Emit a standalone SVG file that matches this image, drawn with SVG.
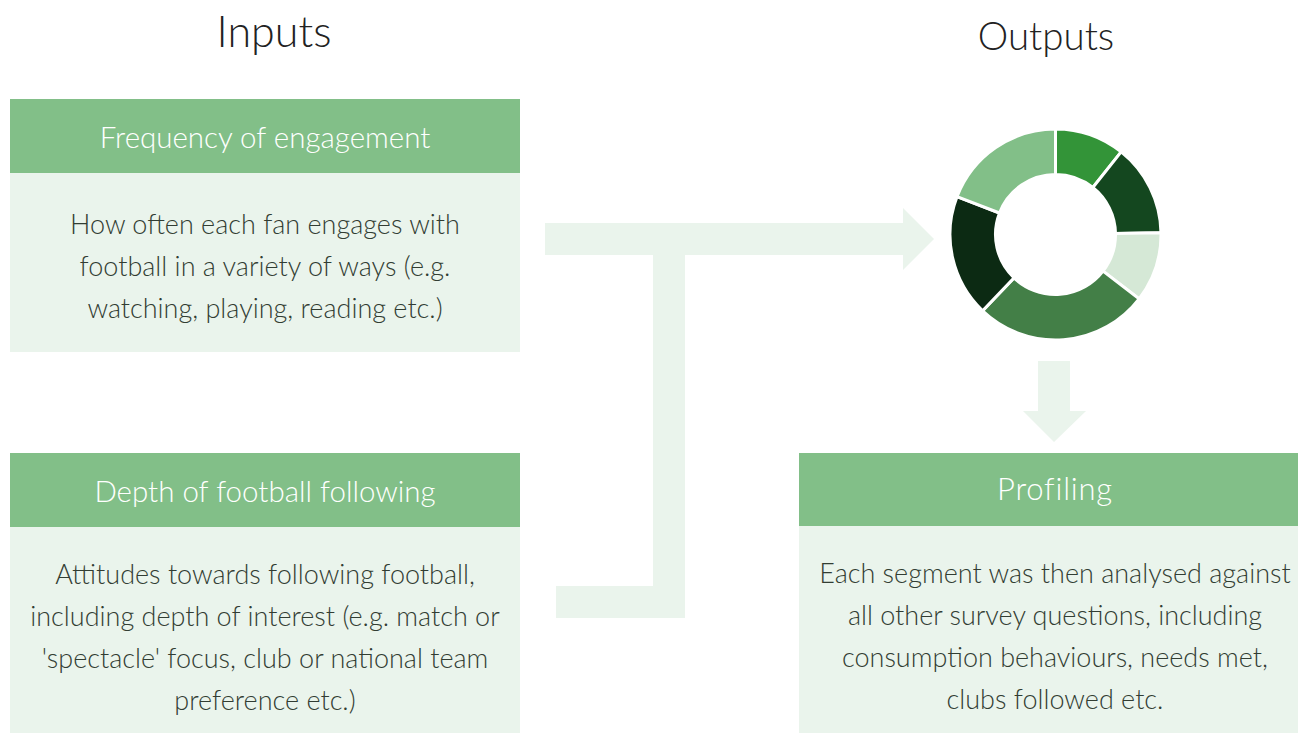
<svg xmlns="http://www.w3.org/2000/svg" width="1298" height="733" viewBox="0 0 1298 733">
<style>
.t{font-family:"Lato Light",Lato,"Open Sans","Liberation Sans",sans-serif;font-weight:300;text-anchor:middle}
.title{fill:#222}
.hdr{fill:#82bf88}
.bd{fill:#eaf4ec}
.ht{font-size:29.5px;fill:#ffffff}
.bt{font-size:27px;fill:#323d33}
.arr{fill:#eaf4ec}
.seg{stroke:#ffffff;stroke-width:3}
</style>
<rect width="1298" height="733" fill="#ffffff"/>
<text class="t title" x="274" y="47" font-size="43">Inputs</text>
<text class="t title" x="1046" y="50" font-size="38.5">Outputs</text>
<g id="connectors">
<polygon class="arr" points="545,223 903,223 903,208 934,239 903,270 903,255 685,255 685,618 556,618 556,586 653,586 653,255 545,255"/>
<polygon class="arr" points="1038,361 1070,361 1070,411 1086,411 1054,442 1023,411 1038,411"/>
</g>
<g id="frequency">
<rect class="hdr" x="10" y="99" width="510" height="74"/>
<rect class="bd" x="10" y="173" width="510" height="179"/>
<text class="t ht" x="265" y="148">Frequency of engagement</text>
<text class="t bt" x="265" y="234">How often each fan engages with</text>
<text class="t bt" x="265" y="276">football in a variety of ways (e.g.</text>
<text class="t bt" x="265" y="318">watching, playing, reading etc.)</text>
</g>
<g id="depth">
<rect class="hdr" x="10" y="453" width="510" height="74"/>
<rect class="bd" x="10" y="527" width="510" height="206"/>
<text class="t ht" x="265" y="502">Depth of football following</text>
<text class="t bt" x="265" y="584">Attitudes towards following football,</text>
<text class="t bt" x="265" y="626">including depth of interest (e.g. match or</text>
<text class="t bt" x="265" y="668">'spectacle' focus, club or national team</text>
<text class="t bt" x="265" y="710">preference etc.)</text>
</g>
<g id="donut">
<path class="seg" fill="#339438" d="M1055.5,129 A105.5,105.5 0 0 1 1121.17,151.94 L1092.85,187.54 A60,60 0 0 0 1055.5,174.5 Z"/>
<path class="seg" fill="#14471f" d="M1121.17,151.94 A105.5,105.5 0 0 1 1160.98,232.66 L1115.49,233.45 A60,60 0 0 0 1092.85,187.54 Z"/>
<path class="seg" fill="#d5e8d6" d="M1160.98,232.66 A105.5,105.5 0 0 1 1139.09,298.87 L1103.04,271.11 A60,60 0 0 0 1115.49,233.45 Z"/>
<path class="seg" fill="#437f47" d="M1139.09,298.87 A105.5,105.5 0 0 1 982.61,310.78 L1014.05,277.88 A60,60 0 0 0 1103.04,271.11 Z"/>
<path class="seg" fill="#0c2a13" d="M982.61,310.78 A105.5,105.5 0 0 1 957.01,196.69 L999.48,213 A60,60 0 0 0 1014.05,277.88 Z"/>
<path class="seg" fill="#82bf88" d="M957.01,196.69 A105.5,105.5 0 0 1 1055.5,129 L1055.5,174.5 A60,60 0 0 0 999.48,213 Z"/>
</g>
<g id="profiling">
<rect class="hdr" x="799" y="453" width="499" height="73"/>
<rect class="bd" x="799" y="526" width="499" height="207"/>
<text class="t ht" x="1055" y="500" style="font-size:31px;letter-spacing:0.8px;font-variant-ligatures:none">Profiling</text>
<text class="t bt" x="1055" y="583">Each segment was then analysed against</text>
<text class="t bt" x="1055" y="625">all other survey questions, including</text>
<text class="t bt" x="1055" y="667">consumption behaviours, needs met,</text>
<text class="t bt" x="1055" y="709">clubs followed etc.</text>
</g>
</svg>
